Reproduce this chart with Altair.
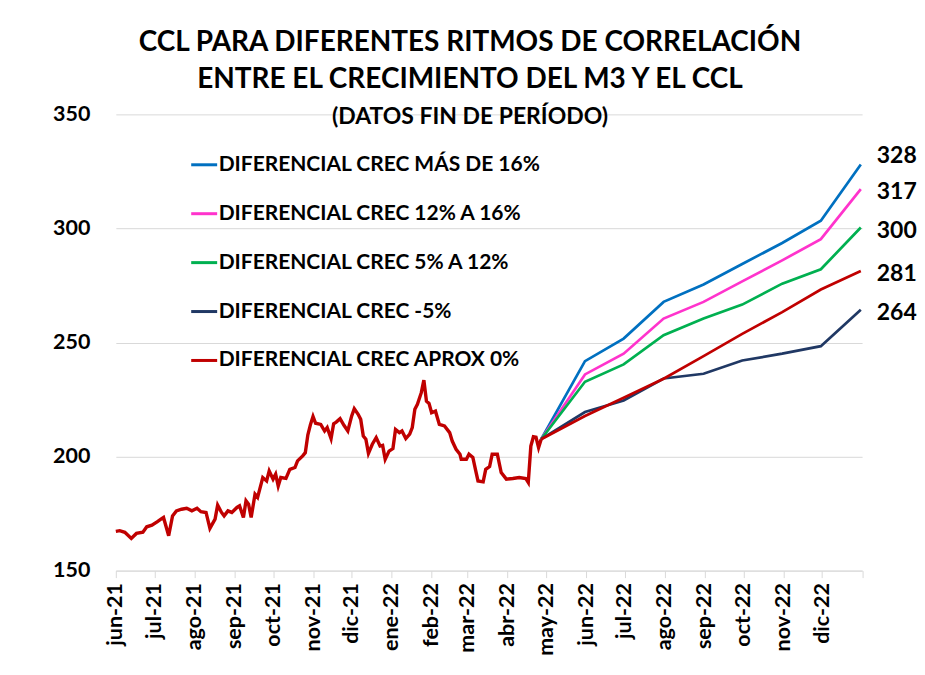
import altair as alt
import pandas as pd

FONT = "Lato"

HIST_DATES = [
    "2021-06-01", "2021-06-04", "2021-06-08", "2021-06-13", "2021-06-17", "2021-06-22", "2021-06-25", "2021-06-29",
    "2021-07-03", "2021-07-06", "2021-07-08", "2021-07-12", "2021-07-15", "2021-07-18", "2021-07-22", "2021-07-26", "2021-07-30",
    "2021-08-03", "2021-08-06", "2021-08-10", "2021-08-13", "2021-08-17", "2021-08-19", "2021-08-22", "2021-08-24", "2021-08-27", "2021-08-30",
    "2021-09-03", "2021-09-05", "2021-09-08", "2021-09-10", "2021-09-12", "2021-09-14", "2021-09-17", "2021-09-19", "2021-09-22", "2021-09-23", "2021-09-26", "2021-09-28",
    "2021-10-01", "2021-10-03", "2021-10-05", "2021-10-07", "2021-10-11", "2021-10-14", "2021-10-18", "2021-10-20", "2021-10-24", "2021-10-26", "2021-10-28", "2021-10-30",
    "2021-11-01", "2021-11-03", "2021-11-07", "2021-11-10", "2021-11-12", "2021-11-15", "2021-11-17", "2021-11-19", "2021-11-22", "2021-11-25", "2021-11-28",
    "2021-12-01", "2021-12-03", "2021-12-06", "2021-12-08", "2021-12-10", "2021-12-12", "2021-12-14", "2021-12-17", "2021-12-20", "2021-12-23", "2021-12-25", "2021-12-27", "2021-12-30",
    "2022-01-02", "2022-01-04", "2022-01-07", "2022-01-09", "2022-01-12", "2022-01-15", "2022-01-17", "2022-01-19", "2022-01-21", "2022-01-24", "2022-01-26", "2022-01-28", "2022-01-30",
    "2022-02-01", "2022-02-04", "2022-02-07", "2022-02-11", "2022-02-15", "2022-02-17", "2022-02-20", "2022-02-23", "2022-02-24", "2022-02-28",
    "2022-03-02", "2022-03-05", "2022-03-07", "2022-03-09", "2022-03-13", "2022-03-15", "2022-03-18", "2022-03-20", "2022-03-24", "2022-03-27", "2022-03-31",
    "2022-04-05", "2022-04-10", "2022-04-15", "2022-04-17", "2022-04-19", "2022-04-21", "2022-04-23", "2022-04-25", "2022-04-27",
]
HIST_VALUES = [
    167.2, 167.5, 166.8, 164.1, 166.3, 166.8, 169.2, 169.9,
    171.4, 172.6, 173.3, 165.3, 174.0, 176.2, 176.9, 177.3, 176.2,
    177.3, 175.8, 175.5, 168.5, 172.6, 178.7, 175.5, 174.0, 176.2, 175.5,
    177.7, 178.4, 173.3, 180.6, 179.1, 173.3, 183.5, 182.1, 188.6, 190.8, 189.3, 193.7,
    190.1, 192.3, 187.1, 190.8, 190.4, 194.4, 195.2, 198.1, 200.3, 201.7, 209.5, 214.0,
    217.6, 214.6, 214.1, 211.2, 212.7, 207.9, 214.4, 215.1, 216.6, 213.7, 211.2,
    217.8, 221.0, 218.5, 216.3, 209.0, 207.6, 201.4, 205.4, 208.3, 204.6, 204.9, 198.8, 202.4,
    203.5, 211.9, 210.5, 211.2, 207.9, 209.8, 212.7, 220.7, 222.9, 228.0, 233.5, 224.3, 223.3,
    219.2, 219.9, 214.1, 213.4, 210.5, 206.8, 203.2, 201.0, 198.8, 198.8,
    201.0, 199.6, 194.4, 189.3, 188.9, 194.4, 195.6, 201.0, 201.0, 193.0, 190.1,
    190.4, 190.8, 190.4, 188.6, 204.6, 208.7, 208.5, 203.9, 207.6,
]

PROJ_DATES = ["2022-04-27", "2022-05-31", "2022-06-30", "2022-07-31", "2022-08-31",
              "2022-09-30", "2022-10-31", "2022-11-30", "2022-12-31"]
SERIES = [
    "DIFERENCIAL CREC MÁS DE 16%",
    "DIFERENCIAL CREC 12% A 16%",
    "DIFERENCIAL CREC 5% A 12%",
    "DIFERENCIAL CREC -5%",
    "DIFERENCIAL CREC APROX 0%",
]
BLUE = [207.6, 241.8, 251.7, 267.8, 275.4, 284.4, 293.6, 303.4, 328.0]
PINK = [207.6, 236.0, 245.1, 260.5, 267.8, 276.8, 286.0, 295.3, 317.2]
GREEN = [207.6, 232.8, 240.4, 253.2, 260.5, 266.6, 275.8, 282.1, 300.4]
NAVY = [207.6, 219.5, 224.6, 234.2, 236.3, 242.1, 245.1, 248.4, 264.4]
RED = [207.6, 217.8, 225.8, 234.1, 244.0, 253.8, 263.3, 273.2, 281.3]
COLORS = ["#0070C0", "#FF33CC", "#00B050", "#203864", "#C00000"]

MESES = ["ene", "feb", "mar", "abr", "may", "jun", "jul", "ago", "sep", "oct", "nov", "dic"]
Y_TICKS = [150, 200, 250, 300, 350]

hist = pd.DataFrame({"fecha": HIST_DATES, "valor": HIST_VALUES})
rows = []
for name, vals in zip(SERIES, [BLUE, PINK, GREEN, NAVY, RED]):
    for d, v in zip(PROJ_DATES, vals):
        rows.append({"fecha": d, "valor": v, "serie": name})
proj = pd.DataFrame(rows)
last = proj[proj["fecha"] == PROJ_DATES[-1]]
last_top = last[last["serie"] == SERIES[0]]
last_rest = last[last["serie"] != SERIES[0]]

month_ticks = []
y, m = 2021, 6
while (y, m) <= (2023, 1):
    month_ticks.append(alt.DateTime(year=y, month=m, date=1, utc=True))
    m += 1
    if m > 12:
        m, y = 1, y + 1

meses_js = "[" + ",".join("'%s'" % s for s in MESES) + "]"
label_expr = ("utcyear(datum.value) > 2022 ? '' : " + meses_js +
              "[utcmonth(datum.value)] + '-' + utcFormat(datum.value, '%y')")

x_enc = alt.X(
    "fecha:T",
    scale=alt.Scale(type="utc",
                    domain=[alt.DateTime(year=2021, month=6, date=1, utc=True),
                            alt.DateTime(year=2023, month=1, date=1, utc=True)]),
    axis=alt.Axis(values=month_ticks, labelExpr=label_expr, labelAngle=270,
                  grid=False, domainColor="#D9D9D9", tickColor="#D9D9D9",
                  tickSize=7, labelPadding=5, labelFont=FONT, labelFontSize=21.5,
                  labelFontWeight="bold", labelColor="black", title=None,
                  labelOverlap=False),
)
y_enc = alt.Y(
    "valor:Q",
    scale=alt.Scale(domain=[150, 350]),
    axis=alt.Axis(values=Y_TICKS, grid=True, gridColor="#D9D9D9", gridWidth=1,
                  domain=False, ticks=False, labelPadding=26, labelFont=FONT,
                  labelFontSize=21.5, labelFontWeight="bold", labelColor="black",
                  title=None),
)

hist_line = alt.Chart(hist).mark_line(color="#C00000", strokeWidth=3.4).encode(x=x_enc, y=y_enc)

proj_lines = alt.Chart(proj).mark_line(strokeWidth=2.7).encode(
    x=x_enc, y=y_enc,
    color=alt.Color(
        "serie:N",
        scale=alt.Scale(domain=SERIES, range=COLORS),
        legend=alt.Legend(title=None, orient="none", legendX=74, legendY=36,
                          symbolType="stroke", symbolSize=676, symbolStrokeWidth=3,
                          labelFont=FONT, labelFontSize=21, labelFontWeight="bold",
                          labelColor="black", labelLimit=600, rowPadding=24,
                          labelOffset=0),
    ),
)


def end_labels(df, dy):
    return alt.Chart(df).mark_text(align="left", baseline="middle", dx=16, dy=dy,
                                   font=FONT, fontSize=23, fontWeight="bold",
                                   color="black").encode(
        x=x_enc, y=y_enc, text=alt.Text("valor:Q", format=".0f"))


chart = alt.layer(hist_line, proj_lines, end_labels(last_top, -9),
                  end_labels(last_rest, 3)).properties(
    width=747.5, height=457,
    autosize=alt.AutoSizeParams(type="none"),
    padding={"left": 108, "top": 106, "right": 55, "bottom": 95},
    title=alt.TitleParams(
        text=["CCL PARA DIFERENTES RITMOS DE CORRELACIÓN",
              "ENTRE EL CRECIMIENTO DEL M3 Y EL CCL"],
        subtitle="(DATOS FIN DE PERÍODO)",
        anchor="middle", dx=-19, offset=-26,
        font=FONT, fontSize=28, fontWeight="bold", color="black", lineHeight=37,
        subtitleFont=FONT, subtitleFontSize=23, subtitleFontWeight="bold",
        subtitleColor="black", subtitlePadding=12,
    ),
).configure_view(stroke=None)

chart.save("out.html", embed_options={"renderer": "svg", "actions": False})
